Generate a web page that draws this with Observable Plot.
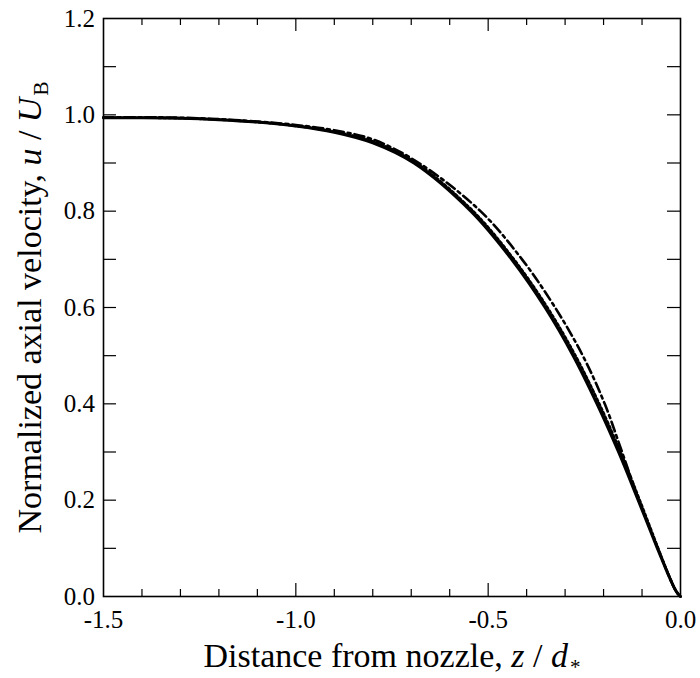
<!DOCTYPE html>
<html><head><meta charset="utf-8">
<script src="https://cdn.jsdelivr.net/npm/d3@7"></script>
<script src="https://cdn.jsdelivr.net/npm/@observablehq/plot@0.6"></script>
<style>body{margin:0;background:#fff} svg{display:block}</style>
</head><body><div id="chart"></div>
<script>
// ---- data ----
const zSolid   = [-1.5, -1.4, -1.3, -1.2, -1.1, -1.0, -0.9, -0.8, -0.693, -0.545, -0.439, -0.352, -0.279, -0.217, -0.161, -0.110, -0.060, -0.04, -0.025, -0.015, -0.007, 0];
const uSolid   = [0.994, 0.994, 0.993, 0.990, 0.985, 0.977, 0.964, 0.942, 0.900, 0.800, 0.700, 0.600, 0.500, 0.400, 0.300, 0.200, 0.100, 0.061, 0.033, 0.016, 0.006, 0];
const zDotted  = [-1.5, -1.4, -1.3, -1.2, -1.1, -1.0, -0.9, -0.8, -0.687, -0.539, -0.433, -0.346, -0.273, -0.211, -0.156, -0.106, -0.058, -0.04, -0.025, -0.015, -0.007, 0];
const uDotted  = [0.994, 0.994, 0.993, 0.990, 0.985, 0.977, 0.965, 0.945, 0.900, 0.800, 0.700, 0.600, 0.500, 0.400, 0.300, 0.200, 0.100, 0.063, 0.034, 0.016, 0.006, 0];
const zDashDot = [-1.5, -1.4, -1.3, -1.2, -1.1, -1.0, -0.9, -0.8, -0.680, -0.520, -0.412, -0.326, -0.254, -0.197, -0.152, -0.108, -0.059, -0.04, -0.025, -0.015, -0.007, 0];
const uDashDot = [0.995, 0.995, 0.994, 0.991, 0.986, 0.979, 0.968, 0.949, 0.900, 0.800, 0.700, 0.600, 0.500, 0.400, 0.300, 0.200, 0.100, 0.062, 0.033, 0.016, 0.006, 0];

const xMajorTicks = [-1.5, -1.0, -0.5, 0.0];
const xTickLabels = ["-1.5", "-1.0", "-0.5", "0.0"];
const xMinorTicks = [-1.4, -1.3, -1.2, -1.1, -0.9, -0.8, -0.7, -0.6, -0.4, -0.3, -0.2, -0.1];
const yMajorTicks = [0.0, 0.2, 0.4, 0.6, 0.8, 1.0, 1.2];
const yTickLabels = ["0.0", "0.2", "0.4", "0.6", "0.8", "1.0", "1.2"];
const yAllTicks   = [0.1, 0.2, 0.3, 0.4, 0.5, 0.6, 0.7, 0.8, 0.9, 1.0, 1.1];

const xTitleParts = [["Distance from nozzle, ", "n"], ["z", "i"], [" / ", "n"], ["d", "i"], ["*", "s"]];
const yTitleParts = [["Normalized axial velocity, ", "n"], ["u", "i"], [" / ", "n"], ["U", "i"], ["B", "s"]];

// ---- layout ----
const W = 700, H = 678;
const mL = 103, mR = 20, mT = 18, mB = 82;
const fW = W - mL - mR, fH = H - mT - mB;
const FONT = "Liberation Serif";

const toRows = (zs, us) => zs.map((zz, i) => ({z: zz, u: us[i]}));
const xTitle = xTitleParts.map(p => p[0]).join("");
const yTitle = yTitleParts.map(p => p[0]).join("");
const xMajorInner = xMajorTicks.filter(d => d > -1.5 && d < 0);
const tickStyle = {stroke: "#000", strokeWidth: 1.2};

const plot = Plot.plot({
  width: W, height: H,
  marginLeft: mL, marginRight: mR, marginTop: mT, marginBottom: mB,
  style: {fontFamily: FONT, background: "#fff", color: "#000"},
  x: {domain: [-1.5, 0], label: null, axis: null},
  y: {domain: [0, 1.2], label: null, axis: null},
  marks: [
    // ticks (inward)
    Plot.tickX(xMinorTicks, {x: d => d, insetTop: fH - 7, ...tickStyle}),
    Plot.tickX(xMinorTicks, {x: d => d, insetBottom: fH - 7, ...tickStyle}),
    Plot.tickX(xMajorInner, {x: d => d, insetTop: fH - 13, ...tickStyle}),
    Plot.tickX(xMajorInner, {x: d => d, insetBottom: fH - 13, ...tickStyle}),
    Plot.tickY(yAllTicks, {y: d => d, insetRight: fW - 13, ...tickStyle}),
    Plot.tickY(yAllTicks, {y: d => d, insetLeft: fW - 13, ...tickStyle}),
    // tick labels
    Plot.text(xMajorTicks, {x: d => d, text: (d, i) => xTickLabels[i], frameAnchor: "bottom", dy: 14, lineAnchor: "top", textAnchor: "middle", fontSize: 25, fontFamily: FONT, fill: "#000"}),
    Plot.text(yMajorTicks, {y: d => d, text: (d, i) => yTickLabels[i], frameAnchor: "left", dx: -8.5, lineAnchor: "middle", textAnchor: "end", fontSize: 25, fontFamily: FONT, fill: "#000"}),
    // curves
    Plot.line(toRows(zDashDot, uDashDot), {x: "z", y: "u", stroke: "#000", strokeWidth: 2.6, strokeDasharray: "10,4,3,4", curve: "catmull-rom"}),
    Plot.line(toRows(zDotted, uDotted), {x: "z", y: "u", stroke: "#000", strokeWidth: 2.6, strokeDasharray: "2.5,2.5", curve: "catmull-rom"}),
    Plot.line(toRows(zSolid, uSolid), {x: "z", y: "u", stroke: "#000", strokeWidth: 3, curve: "catmull-rom"}),
    // frame
    Plot.frame({stroke: "#000", strokeWidth: 1.6}),
    // axis titles
    Plot.text([xTitle], {text: d => d, frameAnchor: "bottom", dy: 60, fontSize: 34, lineAnchor: "middle", textAnchor: "middle", fontFamily: FONT, fill: "#000"}),
    Plot.text([yTitle], {text: d => d, frameAnchor: "left", dx: -73, rotate: -90, fontSize: 34, lineAnchor: "middle", textAnchor: "middle", fontFamily: FONT, fill: "#000"})
  ]
});

// rich text for titles (italics and subscripts)
function richify(el, parts) {
  el.textContent = "";
  for (const [t, kind] of parts) {
    const ts = document.createElementNS("http://www.w3.org/2000/svg", "tspan");
    ts.textContent = t;
    if (kind === "i") ts.setAttribute("font-style", "italic");
    if (kind === "s") { ts.setAttribute("font-size", "62%"); ts.setAttribute("dy", "0.3em"); ts.setAttribute("dx", "2"); }
    el.appendChild(ts);
  }
}
d3.select(plot).selectAll("text").each(function() {
  if (this.textContent === xTitle) richify(this, xTitleParts);
  else if (this.textContent === yTitle) richify(this, yTitleParts);
});

document.getElementById("chart").appendChild(plot);
</script>
</body></html>
